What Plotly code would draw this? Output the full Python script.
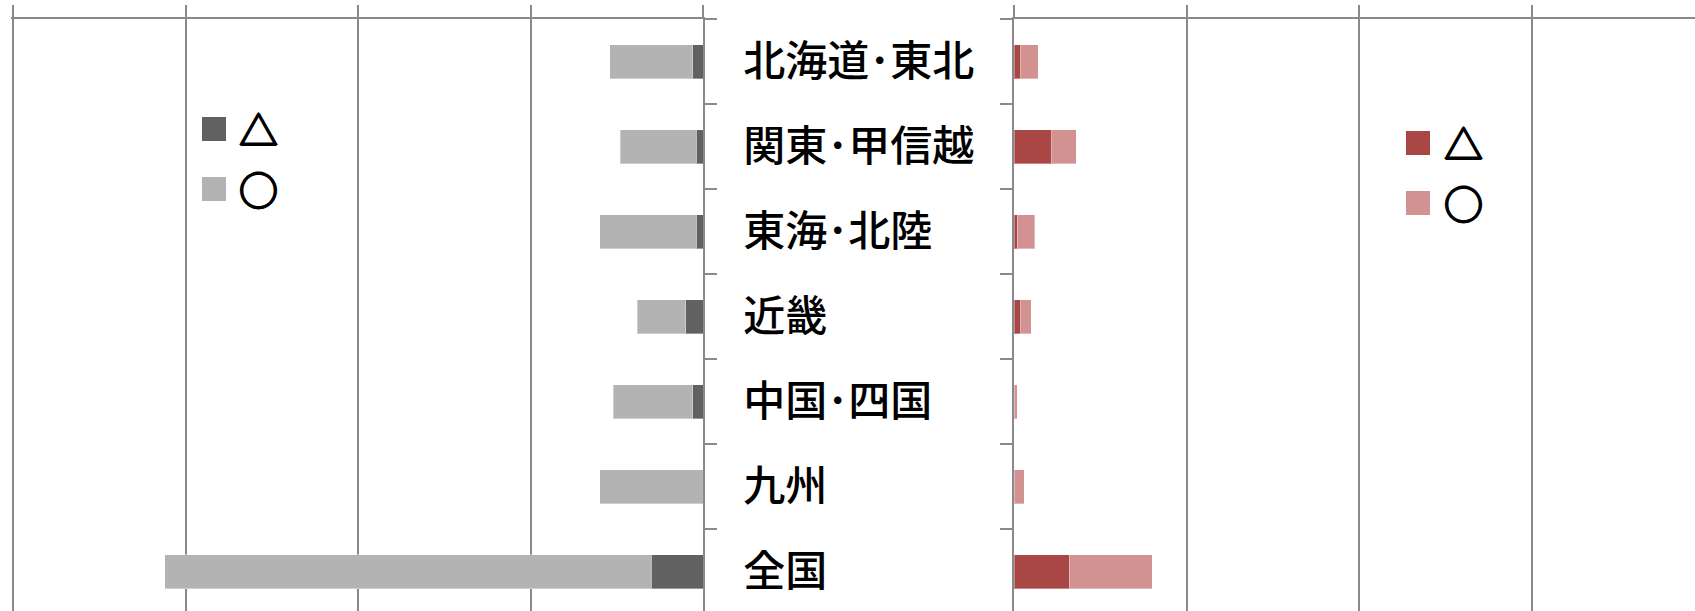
import plotly.graph_objects as go

# Survey counts per region: △ and ○ answers, two groups shown side by side
regions = ["北海道･東北", "関東･甲信越", "東海･北陸", "近畿", "中国･四国", "九州", "全国"]
left_tri = [3, 2, 2, 5, 3, 0, 15]
left_circle = [24, 22, 28, 14, 23, 30, 141]
right_tri = [2, 11, 1, 2, 0, 0, 16]
right_circle = [5, 7, 5, 3, 1, 3, 24]
marks = ["△", "○"]

W, H = 1695, 611
GRID = "#8a8a8a"
FONT = "Noto Sans CJK JP"
LEFT_COLORS = ["#616161", "#b3b3b3"]
RIGHT_COLORS = ["#a94745", "#d39292"]
EDGE = dict(color="rgba(255,255,255,0.35)", width=1)
# thickens the outline glyphs of the legend symbols
HEAVY = "1px 0 0 #000, -1px 0 0 #000, 0 1px 0 #000, 0 -1px 0 #000"

TOP = 19            # pixel row of the top axis line
ROW = 85            # pixel height of one category band
UNIT = 3.45         # pixels per count along the value axes
ZERO_L, ZERO_R = 703, 1014
plot_h = H - TOP
y_range = [-0.5 + plot_h / ROW, -0.5]
left_max = 200.6


def xp(x):
    return x / W


def yp(y):
    return 1 - y / H


fig = go.Figure()

for vals, color, name in zip([left_tri, left_circle], LEFT_COLORS, marks):
    fig.add_trace(go.Bar(
        y=regions, x=vals, orientation="h", name=name,
        marker=dict(color=color, line=EDGE),
        xaxis="x", yaxis="y", showlegend=False,
    ))

for vals, color, name in zip([right_tri, right_circle], RIGHT_COLORS, marks):
    fig.add_trace(go.Bar(
        y=regions, x=vals, orientation="h", name=name,
        marker=dict(color=color, line=EDGE),
        xaxis="x2", yaxis="y2", showlegend=False,
    ))

x_common = dict(
    side="top", dtick=50, tick0=0,
    showgrid=True, gridcolor=GRID, gridwidth=1.5,
    showline=True, linecolor=GRID, linewidth=1.5,
    ticks="outside", ticklen=12, tickcolor=GRID, tickwidth=1.5,
    showticklabels=False, zeroline=False, fixedrange=True,
)
y_common = dict(
    domain=[0, yp(TOP)], type="category",
    categoryorder="array", categoryarray=regions, range=y_range,
    tickson="boundaries", ticks="outside", ticklen=12,
    tickcolor=GRID, tickwidth=1.5,
    showline=True, linecolor=GRID, linewidth=1.5,
    showgrid=False, zeroline=False, fixedrange=True,
)

fig.update_layout(
    width=W, height=H,
    margin=dict(l=0, r=0, t=0, b=0),
    paper_bgcolor="white", plot_bgcolor="white",
    barmode="stack", bargap=0.6,
    xaxis=dict(domain=[xp(ZERO_L - left_max * UNIT), xp(ZERO_L)],
               range=[left_max, 0], anchor="y", **x_common),
    yaxis=dict(anchor="x", side="right", showticklabels=True,
               tickfont=dict(family=FONT, size=42, color="black", weight=500),
               ticklabelstandoff=30, **y_common),
    xaxis2=dict(domain=[xp(ZERO_R), 1], range=[0, (W - ZERO_R) / UNIT],
                anchor="y2", **x_common),
    yaxis2=dict(anchor="x2", side="left", showticklabels=False, **y_common),
)

# Legend swatches and their symbols for each group
shapes = []
annotations = []
legend_spots = [
    (202, [117, 177], LEFT_COLORS, 237),
    (1406, [131, 191], RIGHT_COLORS, 1442),
]
for sx, tops, colors, tx in legend_spots:
    for top, color, name in zip(tops, colors, marks):
        shapes.append(dict(
            type="rect", xref="paper", yref="paper",
            x0=xp(sx), x1=xp(sx + 24), y0=yp(top + 24), y1=yp(top),
            fillcolor=color, line=dict(width=0),
        ))
        annotations.append(dict(
            text=name, xref="paper", yref="paper",
            x=xp(tx), y=yp(top + 11), xanchor="left", yanchor="middle",
            showarrow=False,
            font=dict(family=FONT, size=39, color="black", shadow=HEAVY),
        ))

fig.update_layout(shapes=shapes, annotations=annotations)

fig.write_html("out.html")
